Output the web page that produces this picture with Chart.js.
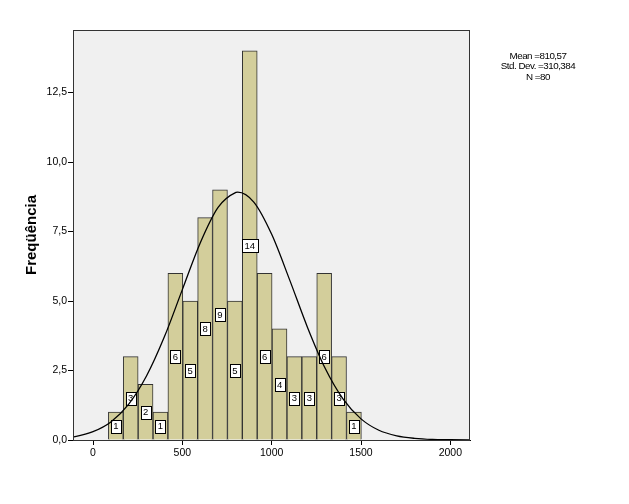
<!DOCTYPE html>
<html>
<head>
<meta charset="utf-8">
<script src="https://cdn.jsdelivr.net/npm/chart.js@4/dist/chart.umd.min.js"></script>
<style>
  body { margin: 0; background: #fff; }
  #wrap { width: 629px; height: 504px; }
</style>
</head>
<body>
<div id="wrap"><canvas id="chart"></canvas></div>
<script>
// histogram bins
const binStart = 86;
const binWidth = 83.3;
const counts = [1, 3, 2, 1, 6, 5, 8, 9, 5, 14, 6, 4, 3, 3, 6, 3, 1];

// normal curve
const curveX = [-112, -100, 0, 100, 200, 300, 400, 500, 600, 700, 800, 810, 900, 1000, 1100, 1200, 1300, 1400, 1500, 1600, 1700, 1800, 1900, 2000, 2110];
const curveY = [0.11, 0.12, 0.30, 0.65, 1.29, 2.31, 3.72, 5.41, 7.09, 8.37, 8.91, 8.92, 8.56, 7.40, 5.77, 4.06, 2.57, 1.47, 0.76, 0.35, 0.15, 0.06, 0.02, 0.01, 0.0];

// stats box text
const statLines = ["Mean =810,57", "Std. Dev. =310,384", "N =80"];

const xTicks = [0, 500, 1000, 1500, 2000];
const yTicks = [0, 2.5, 5, 7.5, 10, 12.5];

const font = "Arial, 'Liberation Sans', sans-serif";

const barData = counts.map((c, i) => ({ x: binStart + binWidth * (i + 0.5), y: c }));
const lineData = curveX.map((x, i) => ({ x: x, y: curveY[i] }));

// grey plot background + frame + stats text
const frame = {
    id: "frame",
    beforeDatasetsDraw(chart) {
        const { ctx, chartArea: a } = chart;
        ctx.save();
        ctx.fillStyle = "#f0f0f0";
        ctx.fillRect(a.left, a.top, a.right - a.left, a.bottom - a.top);
        ctx.restore();
    },
    afterDatasetsDraw(chart) {
        const { ctx, chartArea: a } = chart;
        ctx.save();
        ctx.strokeStyle = "#333";
        ctx.lineWidth = 1;
        ctx.strokeRect(a.left + 0.5, a.top + 0.5, a.right - a.left - 1, a.bottom - a.top);
        ctx.restore();
    },
    afterDraw(chart) {
        const ctx = chart.ctx;
        ctx.save();
        ctx.fillStyle = "#000";
        ctx.font = "9.8px " + font;
        ctx.letterSpacing = "-0.5px";
        ctx.textAlign = "center";
        ctx.textBaseline = "middle";
        statLines.forEach((t, i) => ctx.fillText(t, 538, 56 + i * 10.5));
        ctx.restore();
    }
};

// count boxes in the middle of each bar
const barLabels = {
    id: "barLabels",
    afterDatasetDraw(chart, args) {
        if (args.index !== 1) return;
        const ctx = chart.ctx;
        const yScale = chart.scales.y;
        ctx.save();
        ctx.font = "9.5px " + font;
        ctx.textAlign = "center";
        ctx.textBaseline = "middle";
        args.meta.data.forEach((bar, i) => {
            const txt = String(counts[i]);
            const y = yScale.getPixelForValue(counts[i] / 2);
            const w = Math.round(ctx.measureText(txt).width + 5);
            const h = 13;
            const bx = Math.round(bar.x - w / 2) + 0.5;
            const by = Math.round(y - h / 2) + 0.5;
            ctx.fillStyle = "#fff";
            ctx.fillRect(bx, by, w, h);
            ctx.strokeStyle = "#000";
            ctx.lineWidth = 1;
            ctx.strokeRect(bx, by, w, h);
            ctx.fillStyle = "#000";
            ctx.fillText(txt, bar.x, y + 0.5);
        });
        ctx.restore();
    }
};

new Chart(document.getElementById("chart"), {
    data: {
        datasets: [
            {
                type: "line",
                data: lineData,
                borderColor: "#000",
                borderWidth: 1.3,
                pointRadius: 0,
                cubicInterpolationMode: "monotone",
                fill: false,
                order: 0
            },
            {
                type: "bar",
                data: barData,
                backgroundColor: "#d3ce9b",
                borderColor: "#333",
                borderWidth: 1,
                barPercentage: 1,
                categoryPercentage: 1,
                order: 1
            }
        ]
    },
    options: {
        responsive: true,
        maintainAspectRatio: false,
        animation: false,
        layout: { padding: { left: 0, top: 30, right: 159, bottom: 0 } },
        plugins: {
            legend: { display: false },
            tooltip: { enabled: false }
        },
        scales: {
            x: {
                type: "linear",
                offset: false,
                min: -112,
                max: 2110,
                afterFit: (s) => { s.height = 64; },
                afterBuildTicks: (s) => { s.ticks = xTicks.map(v => ({ value: v })); },
                grid: { offset: false, drawOnChartArea: false, drawTicks: true, tickLength: 5, color: "#000" },
                border: { display: true, color: "#000" },
                ticks: {
                    color: "#000",
                    font: { size: 10.5, family: font },
                    padding: 2,
                    maxRotation: 0,
                    callback: (v) => String(v)
                }
            },
            y: {
                min: 0,
                max: 14.75,
                afterFit: (s) => { s.width = 73; },
                afterBuildTicks: (s) => { s.ticks = yTicks.map(v => ({ value: v })); },
                grid: { drawOnChartArea: false, drawTicks: true, tickLength: 5, color: "#000" },
                border: { display: true, color: "#000" },
                title: {
                    display: true,
                    text: "Freqüência",
                    color: "#000",
                    font: { size: 15, weight: "bold", family: font },
                    padding: { top: 23, bottom: 0 }
                },
                ticks: {
                    color: "#000",
                    font: { size: 10.5, family: font },
                    padding: 1,
                    callback: (v) => v.toFixed(1).replace(".", ",")
                }
            }
        }
    },
    plugins: [frame, barLabels]
});
</script>
</body>
</html>
